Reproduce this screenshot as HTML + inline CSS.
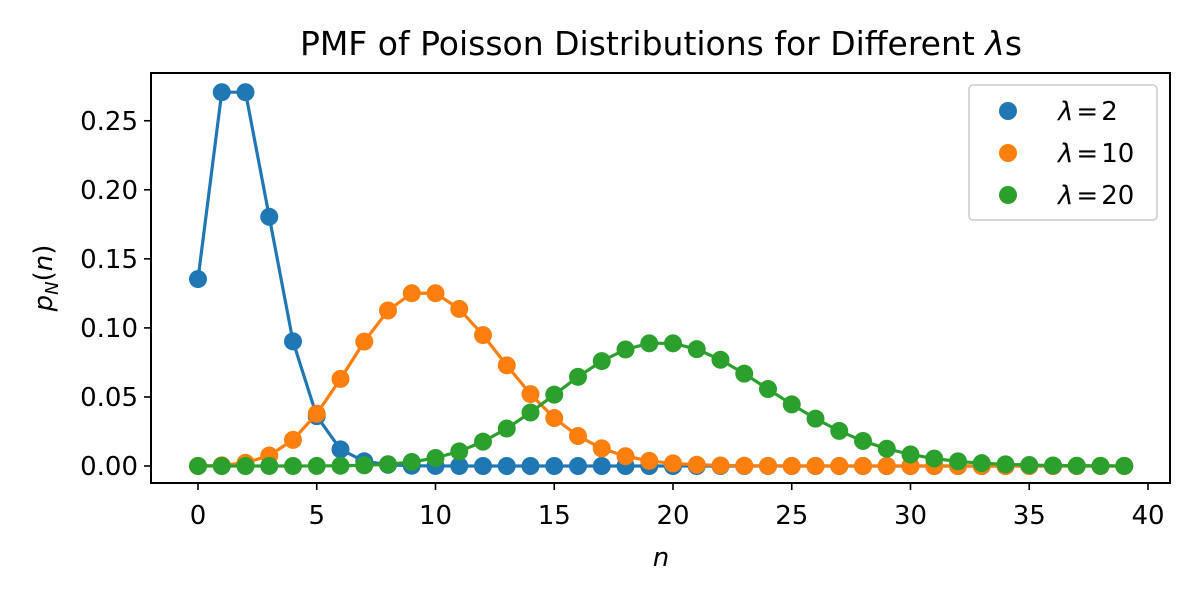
<!DOCTYPE html>
<html><head><meta charset="utf-8"><style>
html,body{margin:0;padding:0;background:#fff;}
svg{display:block;font-family:"DejaVu Sans","Liberation Sans",sans-serif;}
</style></head><body>
<svg id="s" width="1200" height="600" xmlns="http://www.w3.org/2000/svg">
<rect x="0" y="0" width="1200" height="600" fill="#fff"/>
<text x="661" y="55" font-size="33" text-anchor="middle" fill="#000">PMF of Poisson Distributions for Different <tspan font-style="italic">λ</tspan>s</text>
<g id="plot"></g>
<rect x="151" y="73" width="1019" height="410" fill="none" stroke="#000" stroke-width="2"/>
<g id="ticks" font-size="26" fill="#000"></g>
<text x="661" y="566" font-size="26" font-style="italic" text-anchor="middle">n</text>
<text transform="translate(52,278) rotate(-90)" font-size="26" text-anchor="middle"><tspan font-style="italic">p</tspan><tspan font-style="italic" font-size="18" dy="6">N</tspan><tspan dy="-6">(</tspan><tspan font-style="italic">n</tspan>)</text>
<rect x="969" y="85" width="188" height="135" rx="4" fill="#fff" fill-opacity="0.8" stroke="#ccc" stroke-width="1.5"/>
<circle cx="1008" cy="111" r="9" fill="#1f77b4"/>
<circle cx="1008" cy="153" r="9" fill="#ff7f0e"/>
<circle cx="1008" cy="195" r="9" fill="#2ca02c"/>
<g font-size="26">
<text x="1058" y="120"><tspan font-style="italic">λ</tspan><tspan dx="3">=</tspan><tspan dx="3">2</tspan></text>
<text x="1058" y="162"><tspan font-style="italic">λ</tspan><tspan dx="3">=</tspan><tspan dx="3">10</tspan></text>
<text x="1058" y="204"><tspan font-style="italic">λ</tspan><tspan dx="3">=</tspan><tspan dx="3">20</tspan></text>
</g>
</svg>
<script>
var NS="http://www.w3.org/2000/svg";
function X(n){return 198+n*23.75;}
function Y(v){return 466-v*1381;}
function el(t,a,p){var e=document.createElementNS(NS,t);for(var k in a)e.setAttribute(k,a[k]);if(p)p.appendChild(e);return e;}
var plot=document.getElementById("plot"),tk=document.getElementById("ticks");
var cols={2:"#1f77b4",10:"#ff7f0e",20:"#2ca02c"};
[2,10,20].forEach(function(l){
 var pts=[],p=Math.exp(-l);
 for(var n=0;n<40;n++){if(n>0)p*=l/n;pts.push([X(n),Y(p)]);}
 el("polyline",{points:pts.map(function(q){return q.join(",")}).join(" "),fill:"none",stroke:cols[l],"stroke-width":3.2},plot);
 pts.forEach(function(q){el("circle",{cx:q[0],cy:q[1],r:9,fill:cols[l]},plot);});
});
for(var i=0;i<=8;i++){var x=X(i*5);
 el("line",{x1:x,x2:x,y1:483,y2:490,stroke:"#000","stroke-width":1.6},tk);
 var t=el("text",{x:x,y:524,"text-anchor":"middle"},tk);t.textContent=i*5;}
for(var j=0;j<=5;j++){var v=j*0.05,y=Y(v);
 el("line",{x1:144,x2:151,y1:y,y2:y,stroke:"#000","stroke-width":1.6},tk);
 var t2=el("text",{x:138,y:y+9,"text-anchor":"end"},tk);t2.textContent=v.toFixed(2);}
</script>
</body></html>
